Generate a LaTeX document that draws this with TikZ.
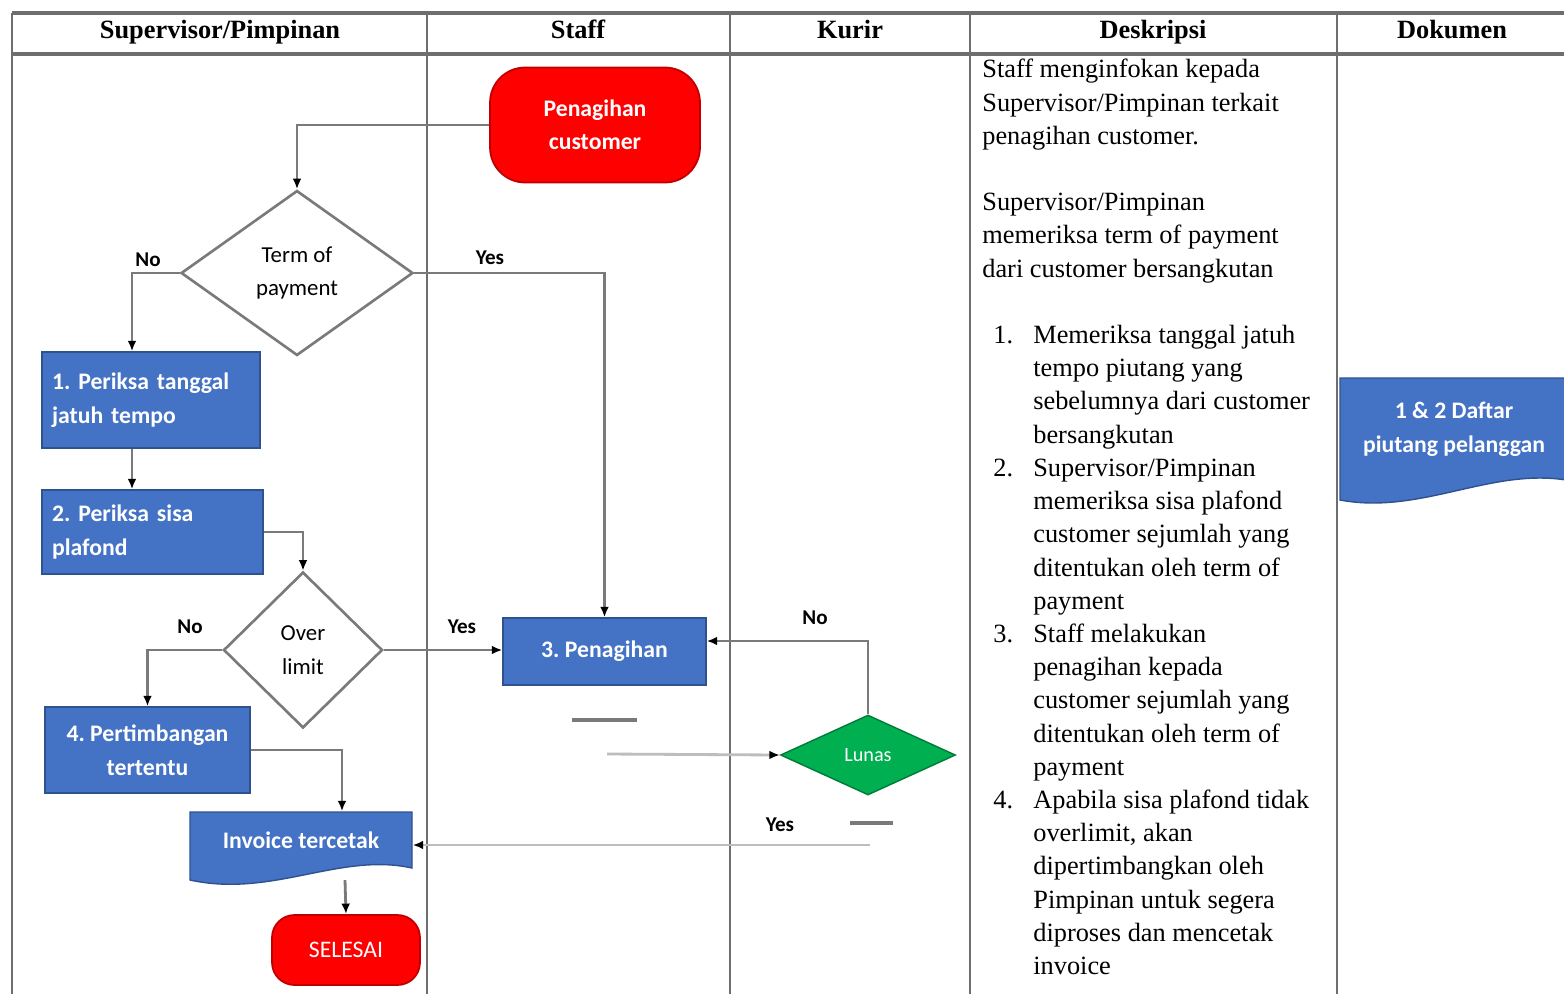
\documentclass[tikz,border=0pt]{standalone}
\usepackage{fontspec}
\setmainfont{Liberation Serif}
\newfontfamily\boxfont{Carlito}
\usepackage{xcolor}
\usetikzlibrary{shapes.geometric, arrows.meta, positioning, calc}

\definecolor{procblue}{HTML}{4472C4}
\definecolor{procedge}{HTML}{2F528F}
\definecolor{termred}{HTML}{FF0000}
\definecolor{termedge}{HTML}{C00000}
\definecolor{okgreen}{HTML}{00B050}
\definecolor{tablegray}{HTML}{6E6E6E}
\definecolor{conngray}{HTML}{7A7A7A}
\definecolor{faintgray}{HTML}{BDBDBD}

\newcommand{\itm}[1]{\hspace*{0.22cm}\makebox[0.8cm][l]{#1}}
\newcommand{\ind}{\hspace*{1.02cm}}

\tikzset{
  lane/.style={draw=tablegray, line width=1.3pt},
  rule/.style={draw=tablegray, line width=2.2pt},
  wire/.style={draw=conngray, line width=1.6pt},
  conn/.style={wire, -{Latex[length=6pt,width=5pt,color=black]}},
  proc/.style={rectangle, draw=procedge, line width=0.8pt, fill=procblue, text=white,
    font=\boxfont\bfseries\fontsize{13.5}{19.3}\selectfont\frenchspacing, inner sep=0pt},
  doc/.style={draw=procedge, line width=0.8pt, fill=procblue},
  term/.style={rectangle, draw=termedge, line width=1pt, fill=termred, text=white,
    font=\boxfont\fontsize{13.5}{19.3}\selectfont, inner sep=0pt, align=center},
  decide/.style={diamond, draw=conngray, line width=1.5pt, fill=white, inner sep=0pt,
    font=\boxfont\fontsize{13}{19}\selectfont, align=center},
  lbl/.style={font=\boxfont\bfseries\fontsize{12}{14}\selectfont},
  head/.style={font=\bfseries\fontsize{15}{18}\selectfont, anchor=base},
  desc/.style={font=\fontsize{15}{18.9}\selectfont, align=left, anchor=north west, inner sep=0pt}
}

\begin{document}
\begin{tikzpicture}[x=0.02cm, y=-0.02cm]
    \useasboundingbox (0,0) rectangle (1564,994);
    \fill[white] (0,0) rectangle (1564,994);

    % Table frame
    \draw[rule] (12,13) -- (1564,13);
    \draw[rule] (12,54) -- (1564,54);
    \foreach \lx in {12, 427, 730, 970, 1337}
        \draw[lane] (\lx,13) -- (\lx,994);

    \node[head] (hsup) at (220,38) {Supervisor/Pimpinan};
    \node[head] (hstaff) at (578,38) {Staff};
    \node[head] (hkurir) at (850,38) {Kurir};
    \node[head] (hdesk) at (1153,38) {Deskripsi};
    \node[head] (hdok) at (1452,38) {Dokumen};

    % Flow shapes
    \node[term, rounded corners=0.7cm, minimum width=4.2cm, minimum height=2.3cm, font=\boxfont\bfseries\fontsize{13.5}{18.7}\selectfont] (start) at (595,125) {Penagihan\\customer};
    \node[decide, minimum width=4.64cm, minimum height=3.3cm] (payterm) at (297,273) {Term of\\payment};
    \node[proc, minimum width=4.36cm, minimum height=1.92cm, text width=3.96cm, align=left] (cekjatuh) at (151,400) {1. Periksa tanggal\\jatuh tempo};
    \node[proc, minimum width=4.42cm, minimum height=1.68cm, text width=4.02cm, align=left] (cekplafon) at (152.5,532) {2. Periksa sisa\\plafond};
    \node[decide, minimum width=3.18cm, minimum height=3.12cm] (overlimit) at (303,650) {Over\\limit};
    \node[proc, minimum width=4.06cm, minimum height=1.34cm] (tagih) at (604.5,651.5) {3. Penagihan};
    \node[proc, minimum width=4.1cm, minimum height=1.72cm, align=center] (timbang) at (147.5,750) {4. Pertimbangan\\tertentu};
    \node[diamond, draw=okgreen!70!black, line width=0.8pt, fill=okgreen, text=white, inner sep=0pt,
          minimum width=3.5cm, minimum height=1.6cm, font=\boxfont\fontsize{11.5}{14}\selectfont] (lunas) at (868,755) {Lunas};

    % Invoice document
    \draw[doc] (190,812) -- (412,812) -- (412,868) .. controls (340,852) and (272,898) .. (190,880) -- cycle;
    \node[proc, draw=none, fill=none, minimum width=4.44cm, minimum height=1.12cm] (inv) at (301,840) {Invoice tercetak};
    \coordinate (invfoot) at (345,880);

    \node[term, rounded corners=0.45cm, minimum width=2.96cm, minimum height=1.4cm] (selesai) at (346,950) {SELESAI};

    % Daftar document
    \draw[doc] (1340,378) -- (1566,378) -- (1566,480) .. controls (1490,468) and (1420,515) .. (1340,500) -- cycle;
    \node[proc, draw=none, fill=none, align=center] (daftar) at (1454,429) {1 \& 2 Daftar\\piutang pelanggan};

    % Connectors
    \draw[conn] (start.west) -| (payterm.north);
    \draw[conn] (payterm.west) -| ([xshift=-0.38cm]cekjatuh.north);
    \node[lbl] (no1) at (148,260) {No};
    \draw[conn] (payterm.east) -| (tagih.north);
    \node[lbl] (yes1) at (490,258) {Yes};
    \draw[conn] ([xshift=-0.38cm]cekjatuh.south) -- ([xshift=-0.38cm]cekjatuh.south |- cekplafon.north);
    \draw[conn] (cekplafon.east) -| (overlimit.north);
    \draw[conn] (overlimit.west) -| (timbang.north);
    \node[lbl] (no2) at (190,627) {No};
    \draw[conn] (overlimit.east) -- (overlimit.east -| tagih.west);
    \node[lbl] (yes2) at (462,627) {Yes};
    \draw[conn] (timbang.east) -| ([xshift=0.82cm]inv.north);
    \draw[conn] (invfoot) -- (selesai.north);

    \draw[conn] (lunas.north) |- ([yshift=0.21cm]tagih.east);
    \node[lbl] (no3) at (815,618) {No};
    \coordinate (lunasin) at (607,754);
    \draw[conn, draw=faintgray] (lunasin) -- (lunas.west);
    \draw[wire, line width=2.2pt] (572,720) -- (637,720);
    \coordinate (yesend) at (870,845);
    \draw[conn, draw=faintgray] (yesend) -- (yesend -| inv.east);
    \node[lbl] (yes3) at (780,825) {Yes};
    \draw[wire, line width=2.2pt] (850,823) -- (893,823);

    % Deskripsi
    \node[desc] (deskripsi) at (982,59) {Staff menginfokan kepada\\
        Supervisor/Pimpinan terkait\\
        penagihan customer.\\[18.9pt]
        Supervisor/Pimpinan\\
        memeriksa term of payment\\
        dari customer bersangkutan\\[18.9pt]
        \itm{1.}Memeriksa tanggal jatuh\\
        \ind tempo piutang yang\\
        \ind sebelumnya dari customer\\
        \ind bersangkutan\\
        \itm{2.}Supervisor/Pimpinan\\
        \ind memeriksa sisa plafond\\
        \ind customer sejumlah yang\\
        \ind ditentukan oleh term of\\
        \ind payment\\
        \itm{3.}Staff melakukan\\
        \ind penagihan kepada\\
        \ind customer sejumlah yang\\
        \ind ditentukan oleh term of\\
        \ind payment\\
        \itm{4.}Apabila sisa plafond tidak\\
        \ind overlimit, akan\\
        \ind dipertimbangkan oleh\\
        \ind Pimpinan untuk segera\\
        \ind diproses dan mencetak\\
        \ind invoice};
\end{tikzpicture}
\end{document}
